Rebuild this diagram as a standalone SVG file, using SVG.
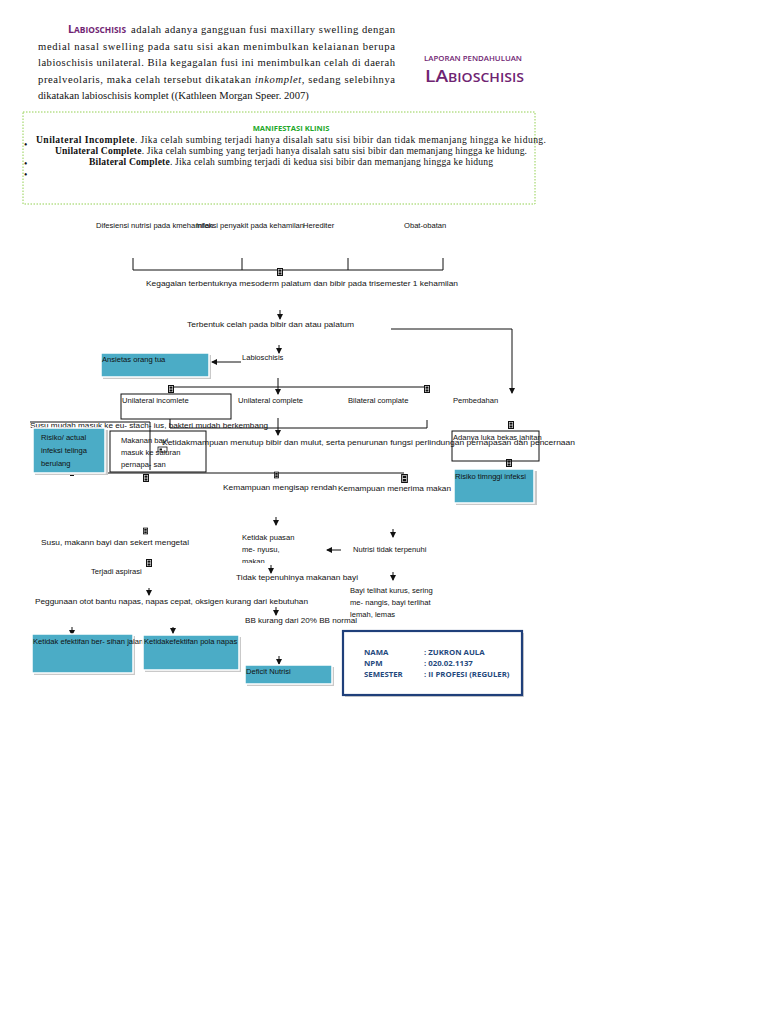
<svg xmlns="http://www.w3.org/2000/svg" width="768" height="1024" viewBox="0 0 768 1024">
<style>
.p{font-family:"Liberation Serif","Times New Roman",serif;font-size:10.6px;fill:#111}
.m{font-family:"Liberation Serif","Times New Roman",serif;font-size:9.6px;fill:#111}
.t{font-family:"Liberation Sans",Arial,sans-serif;font-size:7.6px;fill:#111}
.pu{font-family:"Open Sans","Liberation Sans",sans-serif;fill:#6f2472;font-weight:bold}
.ln{stroke:#111;stroke-width:1;fill:none}
.bx{fill:none;stroke:#111;stroke-width:1}
.bl{fill:#4BACC6;stroke:#fff;stroke-width:1.5}
.sh{fill:#c9c9c9}
.inf{font-family:"Open Sans","Liberation Sans",sans-serif;font-size:7.8px;font-weight:bold;fill:#1f497d}
</style>
<defs>
<marker id="ah" markerWidth="6" markerHeight="6" refX="5" refY="3" orient="auto" markerUnits="userSpaceOnUse"><path d="M0,0 L6,3 L0,6 z" fill="#111"/></marker>
<symbol id="ic" viewBox="0 0 6 8"><rect x="0.5" y="0.5" width="5" height="7" fill="#fff" stroke="#111"/><rect x="1.5" y="1.5" width="3" height="2.2" fill="#111"/><rect x="1.5" y="4.4" width="3" height="2.2" fill="#111"/></symbol>
<clipPath id="cp"><rect x="230" y="525" width="80" height="38"/></clipPath>
</defs>
<rect width="768" height="1024" fill="#fff"/>

<g id="intro">
<text x="68" y="33" textLength="58" lengthAdjust="spacingAndGlyphs"><tspan class="pu" font-size="10.5">L</tspan><tspan class="pu" font-size="8.2">ABIOSCHISIS</tspan></text>
<text class="p" x="131" y="33" textLength="264" lengthAdjust="spacing">adalah adanya gangguan fusi maxillary swelling dengan</text>
<text class="p" x="38" y="50" textLength="357" lengthAdjust="spacing">medial nasal swelling pada satu sisi akan menimbulkan kelaianan berupa</text>
<text class="p" x="38" y="66" textLength="357" lengthAdjust="spacing">labioschisis unilateral. Bila kegagalan fusi ini menimbulkan celah di daerah</text>
<text class="p" x="38" y="83" textLength="357" lengthAdjust="spacing">prealveolaris, maka celah tersebut dikatakan <tspan font-style="italic">inkomplet,</tspan> sedang selebihnya</text>
<text class="p" x="38" y="99">dikatakan labioschisis komplet ((Kathleen Morgan Speer. 2007)</text>
</g>

<g id="title">
<text class="pu" x="424" y="61" font-size="7.6" style="font-weight:600" textLength="98" lengthAdjust="spacingAndGlyphs">LAPORAN PENDAHULUAN</text>
<text x="425" y="82" textLength="99" lengthAdjust="spacingAndGlyphs"><tspan class="pu" font-size="17" style="font-weight:600">LA</tspan><tspan class="pu" font-size="12.5" style="font-weight:600">BIOSCHISIS</tspan></text>
</g>

<g id="manifestasi">
<rect x="23" y="112" width="512" height="92" fill="none" stroke="#92d050" stroke-width="1" stroke-dasharray="1.5,1.5"/>
<text x="291" y="131" text-anchor="middle" font-family="Open Sans, Liberation Sans, sans-serif" font-size="7.6" font-weight="bold" fill="#22a82a">MANIFESTASI KLINIS</text>
<text class="m" x="24" y="148">•</text>
<text class="m" x="24" y="167">•</text>
<text class="m" x="24" y="178">•</text>
<text class="m" x="36" y="143" textLength="510" lengthAdjust="spacing"><tspan font-weight="bold">Unilateral Incomplete</tspan>. Jika celah sumbing terjadi hanya disalah satu sisi bibir dan tidak memanjang hingga ke hidung.</text>
<text class="m" x="55" y="154" textLength="472" lengthAdjust="spacing"><tspan font-weight="bold">Unilateral Complete</tspan>. Jika celah sumbing yang terjadi hanya disalah satu sisi bibir dan memanjang hingga ke hidung.</text>
<text class="m" x="89" y="165" textLength="404" lengthAdjust="spacing"><tspan font-weight="bold">Bilateral Complete</tspan>. Jika celah sumbing terjadi di kedua sisi bibir dan memanjang hingga ke hidung</text>
</g>

<g id="connectors">
<path class="ln" d="M133,258 V270 H443 V258 M242,258 V270 M348,258 V270"/>
<line class="ln" x1="280" y1="310" x2="280" y2="319" marker-end="url(#ah)"/>
<path class="ln" d="M391,329 H512 V393" marker-end="url(#ah)"/>
<line class="ln" x1="279" y1="345" x2="279" y2="353" marker-end="url(#ah)"/>
<line class="ln" x1="241" y1="362" x2="212" y2="362" marker-end="url(#ah)"/>
<line class="ln" x1="278" y1="378" x2="278" y2="394" marker-end="url(#ah)"/>
<line class="ln" x1="171" y1="387" x2="427" y2="387"/>
<path class="ln" d="M170,419 V428 H427 V420"/>
<line class="ln" x1="278" y1="418" x2="278" y2="435" marker-end="url(#ah)"/>
<line class="ln" x1="108" y1="473" x2="404" y2="473"/>
<line class="ln" x1="30" y1="422" x2="150" y2="422"/>
<line class="ln" x1="150" y1="422" x2="150" y2="470"/>
<line class="ln" x1="276" y1="517" x2="276" y2="525" marker-end="url(#ah)"/>
<line class="ln" x1="393" y1="529" x2="393" y2="537" marker-end="url(#ah)"/>
<line class="ln" x1="341" y1="550" x2="327" y2="550" marker-end="url(#ah)"/>
<line class="ln" x1="271" y1="565" x2="271" y2="573" marker-end="url(#ah)"/>
<line class="ln" x1="393" y1="572" x2="393" y2="580" marker-end="url(#ah)"/>
<line class="ln" x1="149" y1="588" x2="149" y2="595" marker-end="url(#ah)"/>
<line class="ln" x1="276" y1="607" x2="276" y2="615" marker-end="url(#ah)"/>
<line class="ln" x1="72" y1="627" x2="72" y2="635" marker-end="url(#ah)"/>
<line class="ln" x1="173" y1="627" x2="173" y2="633" marker-end="url(#ah)"/>
<line class="ln" x1="279" y1="656" x2="279" y2="664" marker-end="url(#ah)"/>
<use href="#ic" x="277" y="268" width="6" height="8"/>
<use href="#ic" x="168" y="385" width="6" height="8"/>
<use href="#ic" x="424" y="385" width="6" height="8"/>
<use href="#ic" x="508" y="421" width="6" height="8"/>
<use href="#ic" x="506" y="459" width="6" height="8"/>
<use href="#ic" x="143" y="474" width="6" height="8"/>
<use href="#ic" x="274" y="469" width="5" height="12"/>
<use href="#ic" x="401" y="474" width="7" height="9"/>
<use href="#ic" x="143" y="526" width="5" height="10"/>
<use href="#ic" x="146" y="559" width="6" height="8"/>
<rect x="158" y="447" width="9" height="5" fill="#fff" stroke="#111" stroke-width="0.8"/>
<rect x="159.5" y="448.5" width="2.5" height="2" fill="#111"/>
<path d="M70,474 h4 v2 h-4 z" fill="#111"/>
</g>

<g id="causes">
<text class="t" x="96" y="228">Difesiensi nutrisi pada kmehamilan</text>
<text class="t" x="196" y="228">Infeksi penyakit pada kehamilan</text>
<text class="t" x="303" y="228">Herediter</text>
<text class="t" x="404" y="228">Obat-obatan</text>
</g>

<g id="kegagalan"><text class="t" x="146" y="286" textLength="312" lengthAdjust="spacingAndGlyphs">Kegagalan terbentuknya mesoderm palatum dan bibir pada trisemester 1 kehamilan</text></g>
<g id="terbentuk"><text class="t" x="187" y="327" textLength="167" lengthAdjust="spacingAndGlyphs">Terbentuk celah pada bibir dan atau palatum</text></g>
<g id="labioschisis"><text class="t" x="242" y="360">Labioschisis</text></g>
<g id="ansietas">
<rect class="sh" x="103" y="355" width="108" height="24"/>
<rect class="bl" x="101" y="353" width="108" height="24"/>
<text class="t" x="102" y="362">Ansietas orang tua</text>
</g>
<g id="uni-incomplete">
<rect class="bx" x="121" y="394" width="110" height="25"/>
<text class="t" x="122" y="403">Unilateral incomlete</text>
</g>
<g id="uni-complete"><text class="t" x="238" y="403">Unilateral complete</text></g>
<g id="bilateral"><text class="t" x="348" y="403">Bilateral complate</text></g>
<g id="pembedahan"><text class="t" x="453" y="403">Pembedahan</text></g>

<g id="susu-eustachius"><text class="t" x="30" y="428" textLength="238" lengthAdjust="spacingAndGlyphs">Susu mudah masuk ke eu- stach- ius, bakteri mudah berkembang</text></g>
<g id="risiko-telinga">
<rect class="sh" x="35" y="430" width="73" height="45"/>
<rect class="bl" x="33" y="428" width="72" height="45"/>
<text class="t" x="41" y="440">Risiko/  actual</text>
<text class="t" x="41" y="453">infeksi telinga</text>
<text class="t" x="41" y="466">berulang</text>
</g>
<g id="makanan">
<rect class="bx" x="110" y="431" width="96" height="41"/>
<text class="t" x="121" y="443">Makanan bayi</text>
<text class="t" x="121" y="455">masuk ke saluran</text>
<text class="t" x="121" y="467">pernapa- san</text>
</g>
<g id="ketidakmampuan"><text class="t" x="162" y="445" textLength="413" lengthAdjust="spacingAndGlyphs">Ketidakmampuan menutup bibir dan mulut, serta penurunan fungsi perlindungan pernapasan dan pencernaan</text></g>
<g id="luka">
<rect class="bx" x="452" y="431" width="87" height="30"/>
<text class="t" x="453" y="440">Adanya luka bekas jahitan</text>
</g>
<g id="risiko-infeksi">
<rect class="sh" x="456" y="471" width="81" height="34"/>
<rect class="bl" x="454" y="469" width="80" height="34"/>
<text class="t" x="455" y="479">Risiko timnggi infeksi</text>
</g>
<g id="mengisap"><text class="t" x="223" y="490" textLength="114" lengthAdjust="spacingAndGlyphs">Kemampuan mengisap rendah</text></g>
<g id="menerima"><text class="t" x="338" y="491" textLength="113" lengthAdjust="spacingAndGlyphs">Kemampuan menerima makan</text></g>

<g id="ketidakpuasan" clip-path="url(#cp)">
<text class="t" x="242" y="540">Ketidak puasan</text>
<text class="t" x="242" y="552">me- nyusu,</text>
<text class="t" x="242" y="564">makan</text>
</g>
<g id="nutrisi"><text class="t" x="353" y="552">Nutrisi tidak terpenuhi</text></g>
<g id="susu-mengetal"><text class="t" x="41" y="545" textLength="148" lengthAdjust="spacingAndGlyphs">Susu, makann bayi dan sekert mengetal</text></g>
<g id="aspirasi"><text class="t" x="91" y="574">Terjadi aspirasi</text></g>
<g id="tidak-tepenuhi"><text class="t" x="236" y="580" textLength="122" lengthAdjust="spacingAndGlyphs">Tidak tepenuhinya makanan bayi</text></g>
<g id="bayi-kurus">
<text class="t" x="350" y="593">Bayi telihat kurus, sering</text>
<text class="t" x="350" y="605">me- nangis, bayi terlihat</text>
<text class="t" x="350" y="617">lemah, lemas</text>
</g>
<g id="otot"><text class="t" x="35" y="604" textLength="273" lengthAdjust="spacingAndGlyphs">Peggunaan otot bantu napas, napas cepat, oksigen kurang dari kebutuhan</text></g>
<g id="bb"><text class="t" x="245" y="623" textLength="112" lengthAdjust="spacingAndGlyphs">BB kurang dari 20% BB normal</text></g>

<g id="jalan-napas">
<rect class="sh" x="34" y="636" width="101" height="39"/>
<rect class="bl" x="32" y="634" width="101" height="39"/>
<text class="t" x="33" y="644">Ketidak efektifan ber- sihan jalan napas</text>
</g>
<g id="pola-napas">
<rect class="sh" x="145" y="637" width="96" height="35"/>
<rect class="bl" x="143" y="635" width="96" height="35"/>
<text class="t" x="144" y="644">Ketidakefektifan pola napas</text>
</g>
<g id="deficit">
<rect class="sh" x="247" y="667" width="87" height="19"/>
<rect class="bl" x="245" y="665" width="87" height="19"/>
<text class="t" x="246" y="674">Deficit Nutrisi</text>
</g>

<g id="identitas">
<rect x="345" y="633" width="179" height="64" fill="#cfcfcf"/>
<rect x="343" y="631" width="179" height="64" fill="#fff" stroke="#1f3f7a" stroke-width="2.2"/>
<text class="inf" x="364" y="655">NAMA</text>
<text class="inf" x="424" y="655">: ZUKRON AULA</text>
<text class="inf" x="364" y="666">NPM</text>
<text class="inf" x="424" y="666">: 020.02.1137</text>
<text class="inf" x="364" y="677">SEMESTER</text>
<text class="inf" x="424" y="677">: II PROFESI (REGULER)</text>
</g>
</svg>
